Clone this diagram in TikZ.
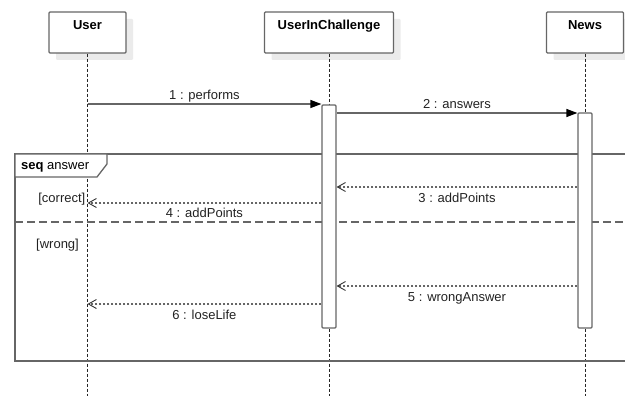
\documentclass[tikz,border=0pt]{standalone}
\usepackage{fontspec}
\setmainfont{Liberation Sans}
\usetikzlibrary{arrows.meta,shadows,calc}

\definecolor{edge}{HTML}{666666}
\definecolor{ink}{HTML}{222222}
\definecolor{shade}{HTML}{EBEBEB}

\tikzset{
  headbox/.style={draw=edge, line width=1.2pt, fill=white, rounded corners=1pt,
    minimum height=41pt, inner sep=0pt,
    general shadow={fill=shade, shadow xshift=7pt, shadow yshift=-7pt}},
  headtxt/.style={anchor=base, font=\fontsize{13}{15}\selectfont\bfseries, text=black, inner sep=0pt},
  lifeline/.style={draw=black!85, line width=0.8pt, dash pattern=on 3pt off 2pt},
  actbar/.style={draw=edge, line width=1.2pt, fill=white, rounded corners=1pt,
    minimum width=14pt, inner sep=0pt},
  callmsg/.style={draw=edge, line width=1.2pt, -{Triangle[length=11pt,width=8pt,color=black]}},
  replymsg/.style={draw=edge, line width=1.2pt, dash pattern=on 2pt off 2pt,
    -{Straight Barb[length=8pt,width=9pt,line width=0.9pt,color=black!80]}},
  msgtxt/.style={anchor=base, font=\fontsize{13}{15}\selectfont, text=ink, inner sep=0pt},
  framebox/.style={draw=edge, line width=1.3pt},
  sepline/.style={draw=edge, line width=1.2pt, dash pattern=on 8pt off 4pt},
}

\begin{document}
\begin{tikzpicture}[x=1pt, y=-1pt]
\useasboundingbox (0,0) rectangle (625,396);
\clip (0,0) rectangle (625,396);

% participant heads
\node[headbox, minimum width=77pt]  (user) at (87.5,32.5) {};
\node[headbox, minimum width=129pt] (uic)  at (329,32.5) {};
\node[headbox, minimum width=77pt]  (news) at (585,32.5) {};
\node[headtxt] at ($(user.north)+(0,18)$) {User};
\node[headtxt] at ($(uic.north)+(0,18)$) {UserInChallenge};
\node[headtxt] at ($(news.north)+(0,18)$) {News};

% lifeline ends at the bottom edge
\coordinate (userend) at (87.5,396);
\coordinate (uicend)  at (329,396);
\coordinate (newsend) at (585,396);
\draw[lifeline] (user.south) -- (userend);
\draw[lifeline] (uic.south) -- (uicend);
\draw[lifeline] (news.south) -- (newsend);

% combined fragment "seq answer"
\draw[framebox] (15,154) rectangle (640,361);
\draw[framebox, fill=white] (15,154) -- (107,154) -- (107,164) -- (97,177) -- (15,177) -- cycle;
\node[anchor=base west, inner sep=0pt, font=\fontsize{13}{15}\selectfont, text=black]
  at (21,170) {\textbf{seq} answer};
\draw[sepline] (15,222) -- (640,222);
\node[msgtxt, anchor=base east] at (85.5,202) {[correct]};
\node[msgtxt, anchor=base west] at (36,248) {[wrong]};

% activation bars
\node[actbar, minimum height=223pt] (uicbar)  at (329,216.5) {};
\node[actbar, minimum height=215pt] (newsbar) at (585,220.5) {};

% messages
\coordinate (m1) at (87.5,104);
\draw[callmsg] (m1) -- (uicbar.west |- m1);
\node[msgtxt] at ($(m1)!0.5!(uicbar.west |- m1)+(0,-4)$) {1 : performs};

\coordinate (m2) at (uicbar.east |- 0,113);
\draw[callmsg] (m2) -- (newsbar.west |- m2);
\node[msgtxt] at ($(m2)!0.5!(newsbar.west |- m2)+(0,-4)$) {2 : answers};

\coordinate (m3) at (newsbar.west |- 0,187);
\draw[replymsg] (m3) -- (uicbar.east |- m3);
\node[msgtxt] at ($(m3)!0.5!(uicbar.east |- m3)+(0,15)$) {3 : addPoints};

\coordinate (m4) at (uicbar.west |- 0,203);
\coordinate (m4e) at (87.5,203);
\draw[replymsg] (m4) -- (m4e);
\node[msgtxt] at ($(m4)!0.5!(m4e)+(0,15)$) {4 : addPoints};

\coordinate (m5) at (newsbar.west |- 0,286);
\draw[replymsg] (m5) -- (uicbar.east |- m5);
\node[msgtxt] at ($(m5)!0.5!(uicbar.east |- m5)+(0,15)$) {5 : wrongAnswer};

\coordinate (m6) at (uicbar.west |- 0,304);
\coordinate (m6e) at (87.5,304);
\draw[replymsg] (m6) -- (m6e);
\node[msgtxt] at ($(m6)!0.5!(m6e)+(0,15)$) {6 : loseLife};
\end{tikzpicture}
\end{document}
